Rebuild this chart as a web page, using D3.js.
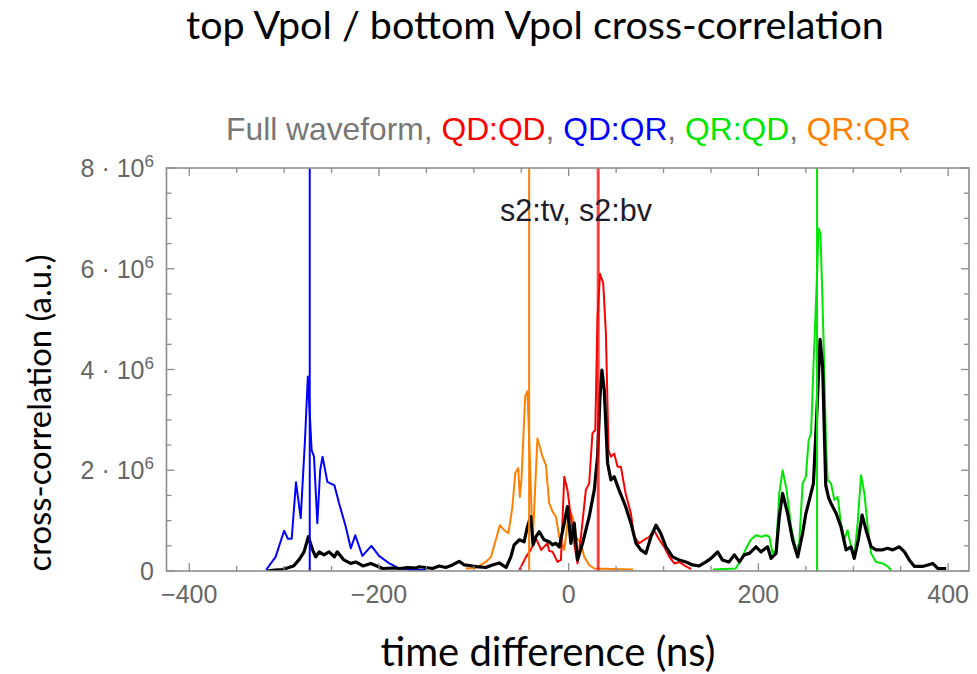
<!DOCTYPE html>
<html>
<head>
<meta charset="utf-8">
<script src="https://cdn.jsdelivr.net/npm/d3@7"></script>
<style>
  html, body { margin: 0; padding: 0; background: #fff; }
  svg { display: block; }
</style>
</head>
<body>
<svg id="chart" width="977" height="674"></svg>
<script>
// ---------------- DATA (time in ns, cross-correlation in units of 10^6) ----------------
const fullT = [-318,-310,-302,-290,-284,-279,-274.5,-270,-266.7,-263,-258,-252.6,-247,-244,-237,-230,-224.5,-217,-208.6,-196,-185,-178,-170,-160,-157.7,-150.7,-143.6,-136.6,-129.6,-122.5,-115.5,-110,-101.5,-94.4,-87.4,-80.4,-73.3,-66,-61,-57.5,-52,-47,-43.5,-40,-37.5,-34.6,-31,-26,-20.6,-17,-13.5,-10,-4.7,-1.3,2.3,5.8,9.3,14.6,21.6,27,30.4,33,35,37.5,41,44.5,48,53,60,65.6,71,76,81.4,86.7,92,97,102.5,109.5,116.5,123.6,130.6,137.6,144.7,150,157,162,169,174.6,180,185,190.4,197.5,202.7,209.7,213.3,218.6,222,225.5,230.8,236,241.4,246.6,250,253.7,258,261.4,265,267.7,271,274,276.6,282,287,292.4,297.7,301,305.4,309.3,313.5,318.8,324,331,336,341.6,348.6,354,359,364.5,373,378.5,383.8,389,398];
const fullV = [0.0,0.02,0.03,0.1,0.23,0.38,0.68,0.42,0.28,0.38,0.32,0.38,0.28,0.38,0.22,0.15,0.18,0.1,0.15,0.05,0.06,0.05,0.07,0.06,0.085,0.07,0.05,0.1,0.07,0.12,0.19,0.12,0.1,0.08,0.07,0.12,0.16,0.07,0.28,0.52,0.62,0.58,0.88,1.08,0.52,0.68,0.78,0.62,0.58,0.52,0.55,0.48,0.95,1.28,0.55,0.95,0.22,0.55,1.08,1.61,2.27,3.46,3.99,3.59,2.14,1.81,1.87,1.61,1.28,0.95,0.55,0.42,0.35,0.68,0.91,0.75,0.48,0.28,0.22,0.18,0.12,0.1,0.18,0.25,0.38,0.22,0.18,0.32,0.18,0.32,0.35,0.48,0.38,0.48,0.25,0.35,1.08,1.54,1.14,0.62,0.28,0.75,1.14,1.41,1.74,3.06,4.6,4.05,1.7,1.45,1.34,1.14,0.88,0.42,0.48,0.25,0.62,1.11,0.81,0.48,0.42,0.42,0.45,0.42,0.48,0.38,0.22,0.09,0.09,0.12,0.15,0.05,0.05];

const qdqdT = [-52,-45,-40,-34.6,-29,-26,-22.4,-20.6,-17,-11.8,-8.2,-4.7,-1.3,2.3,5.8,9.3,12.9,18.1,21.6,25,28,30.4,33,36.4,39.2,42,44.5,48,51.5,55,60,65.6,69,74.4,79.6,85,90,95.5,100.7,106,111.3,116.5,123.6,129];
const qdqdV = [0.02,0.28,0.42,0.65,0.42,0.48,0.55,0.4,0.38,0.18,0.22,1.87,1.61,1.08,0.55,0.15,0.68,1.61,1.74,2.73,2.8,5.05,5.9,5.71,4.72,2.4,2.27,2.33,2.07,2.07,1.54,1.14,0.68,0.55,0.62,0.68,0.81,0.62,0.48,0.28,0.15,0.18,0.09,0.04];

const qdqrT = [-319,-309,-300,-296,-292,-287.5,-282.5,-278,-275,-271,-268.5,-265,-262,-259.5,-254.4,-247,-242,-235,-229.7,-225,-217.5,-208,-200,-189,-180,-170,-160,-150];
const qdqrV = [0.02,0.28,0.8,0.64,0.64,1.76,1.05,2.6,3.86,2.4,2.27,0.95,2.0,2.27,1.77,1.7,1.34,0.88,0.45,0.71,0.3,0.5,0.3,0.15,0.06,0.03,0.02,0.02];

const qrqdT = [152,176,181.6,187,192,197.5,203,208,211.5,215,218.6,222,225.5,229.7,234.4,239.7,243,246.6,250,253,255.5,258,260.8,263.5,265.5,268.5,271.3,273,276.6,280,283.5,287,290.6,294,297.7,301,304.6,308.2,311.7,315.2,318.8,324,331,336.3,340];
const qrqdV = [0.03,0.05,0.22,0.45,0.62,0.71,0.68,0.71,0.68,0.35,0.41,1.54,2.0,1.61,0.88,0.42,0.55,1.74,1.87,2.6,2.73,4.05,5.38,6.8,6.7,4.72,2.5,1.81,1.74,1.41,1.47,0.95,0.62,0.81,0.48,0.28,0.95,1.9,1.54,0.88,0.35,0.18,0.15,0.09,0.02];

const qrqrT = [-108.5,-98,-87.3,-82,-76.8,-72.6,-68,-63.5,-59.3,-56.4,-53.3,-51.5,-49.8,-45.9,-43.5,-41.5,-38,-33,-27.6,-24,-20.6,-17,-13.5,-10,-4.7,0.5,4,7.6,12.9,16.4,21.6,27,45,68];
const qrqrV = [0.05,0.06,0.18,0.28,0.62,0.91,0.81,0.75,1.28,1.94,2.04,1.47,1.81,3.46,3.57,2.53,0.55,2.63,2.27,2.1,1.35,1.18,1.08,0.68,0.42,1.21,1.08,0.68,0.55,0.28,0.12,0.05,0.04,0.03];

// peak markers (vertical lines), ns
const markerNames = ["QD:QR", "QR:QR", "QD:QD", "QR:QD"];
const markerTimes = [-273, -41.7, 31.1, 261.8];

// legend / title pieces
const legendNames = ["QD:QD", "QD:QR", "QR:QD", "QR:QR"];

// tick values
const xMajorTicks = [-400, -200, 0, 200, 400];
const yMajorTicks = [0, 2, 4, 6, 8];   // × 10^6

// ---------------- STYLE ----------------
const colors = { "QD:QD": "#ff0000", "QD:QR": "#0000ff", "QR:QD": "#00e600", "QR:QR": "#ff8000", "full": "#000000" };

const svg = d3.select("#chart");
const L = 166.5, R = 969, T = 168, B = 571;

const x = d3.scaleLinear().domain([-424, 422]).range([L, R]);
const y = d3.scaleLinear().domain([0, 8]).range([B, T]);

function fitText(sel, target) {
  const w = sel.node().getComputedTextLength();
  const fs = parseFloat(sel.attr("font-size"));
  sel.attr("font-size", (fs * target / w).toFixed(2));
}

// main title
const title = svg.append("text")
  .attr("x", 535).attr("y", 39).attr("text-anchor", "middle")
  .attr("font-family", "Lato, 'Open Sans', sans-serif").attr("font-size", 34).attr("fill", "#000")
  .text("top Vpol / bottom Vpol cross-correlation");
fitText(title, 698);

// axis titles
const xl = svg.append("text")
  .attr("x", 548).attr("y", 666).attr("text-anchor", "middle")
  .attr("font-family", "Lato, 'Open Sans', sans-serif").attr("font-size", 32).attr("fill", "#000")
  .text("time difference (ns)");
fitText(xl, 335);

const yl = svg.append("text")
  .attr("transform", "translate(51,413) rotate(-90)").attr("text-anchor", "middle")
  .attr("font-family", "Lato, 'Open Sans', sans-serif").attr("font-size", 32).attr("fill", "#000")
  .text("cross-correlation (a.u.)");
fitText(yl, 317);

// plot title with coloured segments
const pt = svg.append("text")
  .attr("x", 568.5).attr("y", 140).attr("text-anchor", "middle")
  .attr("font-family", "'Liberation Sans', Arial, sans-serif").attr("font-size", 28).attr("fill", "#777");
pt.append("tspan").text("Full waveform, ");
legendNames.forEach((n, i) => {
  pt.append("tspan").attr("fill", colors[n]).text(n);
  if (i < legendNames.length - 1) pt.append("tspan").attr("fill", "#777").text(", ");
});
fitText(pt, 685);

// clip
svg.append("clipPath").attr("id", "plotclip")
  .append("rect").attr("x", L).attr("y", T).attr("width", R - L).attr("height", B - T);

const plot = svg.append("g").attr("clip-path", "url(#plotclip)");

const line = d3.line().x(d => x(d[0])).y(d => y(d[1]));
const series = [
  { key: "QR:QR", t: qrqrT, v: qrqrV },
  { key: "QD:QD", t: qdqdT, v: qdqdV },
  { key: "QD:QR", t: qdqrT, v: qdqrV },
  { key: "QR:QD", t: qrqdT, v: qrqdV }
];
series.forEach(s => {
  plot.append("path")
    .datum(d3.zip(s.t, s.v))
    .attr("d", line).attr("fill", "none")
    .attr("stroke", colors[s.key]).attr("stroke-width", 2)
    .attr("stroke-linejoin", "round");
});
plot.append("path")
  .datum(d3.zip(fullT, fullV))
  .attr("d", line).attr("fill", "none")
  .attr("stroke", colors.full).attr("stroke-width", 3.2)
  .attr("stroke-linejoin", "round");

// vertical markers
markerNames.forEach((n, i) => {
  plot.append("line")
    .attr("x1", x(markerTimes[i])).attr("x2", x(markerTimes[i]))
    .attr("y1", B).attr("y2", T)
    .attr("stroke", colors[n])
    .attr("stroke-width", n === "QD:QD" ? 3 : 2)
    .attr("stroke-opacity", n === "QD:QD" ? 0.75 : 1);
});

// inner annotation
const ann = svg.append("text")
  .attr("x", 576).attr("y", 221).attr("text-anchor", "middle")
  .attr("font-family", "'Liberation Sans', Arial, sans-serif").attr("font-size", 28).attr("fill", "#1c1c2c")
  .text("s2:tv, s2:bv");
fitText(ann, 152);

// frame + ticks
const frameColor = "#8c8c8c";
const axes = svg.append("g");
const xMinor = d3.range(-400, 401, 50).filter(v => !xMajorTicks.includes(v));
const yMinor = d3.range(0, 8.01, 0.5).filter(v => !yMajorTicks.includes(v));

function ticksH(vals, len) {
  vals.forEach(v => {
    const px = x(v);
    axes.append("line").attr("x1", px).attr("x2", px).attr("y1", B).attr("y2", B - len)
      .attr("stroke", frameColor).attr("stroke-width", 1.3);
    axes.append("line").attr("x1", px).attr("x2", px).attr("y1", T).attr("y2", T + len)
      .attr("stroke", frameColor).attr("stroke-width", 1.3);
  });
}
function ticksV(vals, len) {
  vals.forEach(v => {
    const py = y(v);
    axes.append("line").attr("x1", L).attr("x2", L + len).attr("y1", py).attr("y2", py)
      .attr("stroke", frameColor).attr("stroke-width", 1.3);
    axes.append("line").attr("x1", R).attr("x2", R - len).attr("y1", py).attr("y2", py)
      .attr("stroke", frameColor).attr("stroke-width", 1.3);
  });
}
ticksH(xMajorTicks, 8); ticksH(xMinor, 5);
ticksV(yMajorTicks, 8); ticksV(yMinor, 5);

axes.append("rect").attr("x", L).attr("y", T).attr("width", R - L).attr("height", B - T)
  .attr("fill", "none").attr("stroke", frameColor).attr("stroke-width", 1.6);

// tick labels
const tickFont = "'Liberation Sans', Arial, sans-serif";
const tickColor = "#666";
xMajorTicks.forEach(v => {
  svg.append("text").attr("x", x(v)).attr("y", 603).attr("text-anchor", "middle")
    .attr("font-family", tickFont).attr("font-size", 25).attr("fill", tickColor)
    .text(v < 0 ? "\u2212" + Math.abs(v) : String(v));
});
yMajorTicks.forEach(v => {
  const t = svg.append("text").attr("x", 154).attr("y", y(v) + 9).attr("text-anchor", "end")
    .attr("font-family", tickFont).attr("font-size", 25).attr("fill", tickColor);
  if (v === 0) {
    t.text("0");
  } else {
    t.append("tspan").text(v + " \u00B7 10");
    t.append("tspan").attr("font-size", 17).attr("dy", -10).text("6");
  }
});
</script>
</body>
</html>
